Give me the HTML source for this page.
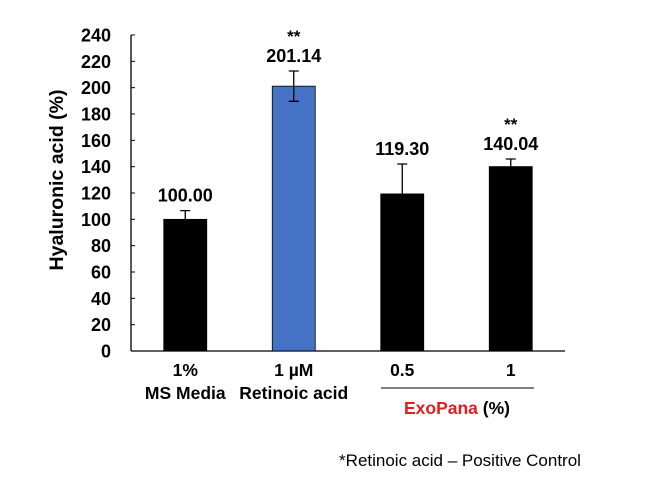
<!DOCTYPE html>
<html><head><meta charset="utf-8"><style>
body{margin:0;background:#fff;}
svg{display:block;font-family:"Liberation Sans",Arial,sans-serif;}
</style></head><body>
<svg id="chart" width="650" height="480">
<g id="g"></g>
</svg>
<script>
const categories1=["1%","1 µM","0.5","1"];
const categories2=["MS Media","Retinoic acid","",""];
const values=[100.00,201.14,119.30,140.04];
const errors=[6.6,11.5,22.7,5.8];
const stars=["","**","","**"];
const barColors=["#000","#4472C4","#000","#000"];
const yTicks=[0,20,40,60,80,100,120,140,160,180,200,220,240];
const NS="http://www.w3.org/2000/svg";
const g=document.getElementById('g');
const x0=131,x1=565,y0=351,yTop=35,ymax=240;
const band=(x1-x0)/categories1.length,bw=43;
const y=v=>y0-(v/ymax)*(y0-yTop);
const xc=i=>x0+band*(i+0.5);
function mk(t,a,txt){const e=document.createElementNS(NS,t);for(const k in a)e.setAttribute(k,a[k]);if(txt!==undefined)e.textContent=txt;g.appendChild(e);return e;}
let ax=mk('line',{x1:x0,y1:yTop,x2:x0,y2:y0,stroke:'#000','stroke-width':1.3});


let axx=mk('line',{x1:x0,y1:y0,x2:x1,y2:y0,stroke:'#000','stroke-width':1.3});


yTicks.forEach(t=>{
 let tk=mk('line',{x1:x0,y1:y(t),x2:x0+4,y2:y(t),stroke:'#000','stroke-width':1});
 
 
 let tl=mk('text',{x:111,y:y(t)+6.5,'text-anchor':'end','font-size':18,'font-weight':'bold'},String(t));
 
 
});
values.forEach((v,i)=>{
 const cx=xc(i);
 let b=mk('rect',{x:cx-bw/2,y:y(v),width:bw,height:y0-y(v),fill:barColors[i],stroke:'#000','stroke-width':0.8});
 
 
 const eh=y(v+errors[i]),el=y(v-errors[i]);
 let e=mk('path',{d:`M${cx},${el}V${eh}M${cx-5},${eh}H${cx+5}M${cx-5},${el}H${cx+5}`,stroke:'#000','stroke-width':1.3,fill:'none'});
 
 
 let lab=mk('text',{x:cx,y:eh-9,'text-anchor':'middle','font-size':18,'font-weight':'bold'},values[i].toFixed(2));
 
 
 if(stars[i]){let s=mk('text',{x:cx,y:eh-29,'text-anchor':'middle','font-size':17,'font-weight':'bold'},stars[i]);
 
 }
 let c1=mk('text',{x:cx,y:376,'text-anchor':'middle','font-size':17.5,'font-weight':'bold'},categories1[i]);
 
 
 if(categories2[i]){let c2=mk('text',{x:cx,y:399,'text-anchor':'middle','font-size':17.5,'font-weight':'bold'},categories2[i]);
 
 }
});
</script>
<svg style="position:absolute;left:0;top:0" width="650" height="480">
<text x="63" y="180" transform="rotate(-90 63 180)" text-anchor="middle" font-size="19.5" font-weight="bold" font-family="Liberation Sans, sans-serif">Hyaluronic acid (%)</text>
<line x1="381" y1="388" x2="534" y2="388" stroke="#000" stroke-width="1"/>
<text x="457" y="414" text-anchor="middle" font-size="17.5" font-weight="bold" font-family="Liberation Sans, sans-serif"><tspan fill="#E02020">ExoPana</tspan> (%)</text>
<text x="460" y="466" text-anchor="middle" font-size="17" font-family="Liberation Sans, sans-serif">*Retinoic acid – Positive Control</text>
</svg>
</body></html>
